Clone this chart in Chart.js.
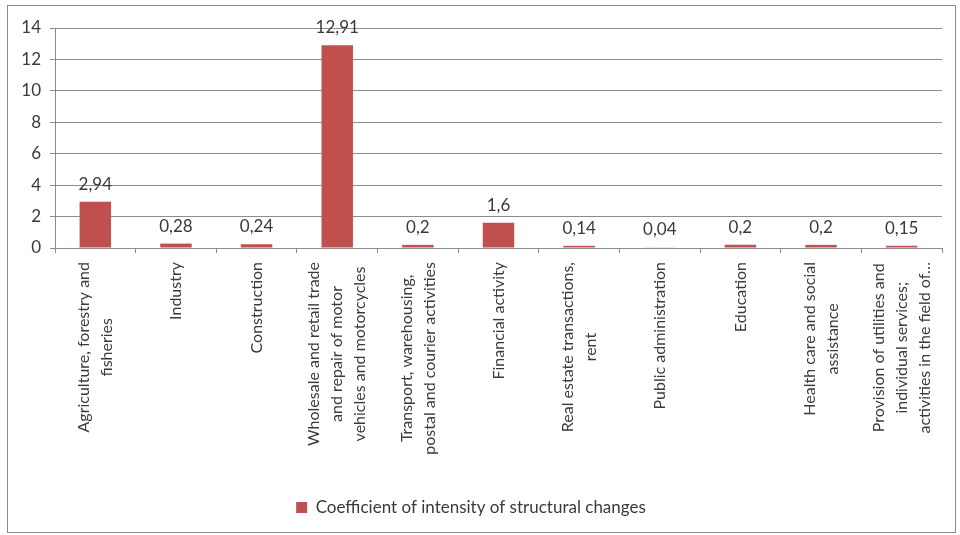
<!DOCTYPE html>
<html>
<head>
<meta charset="utf-8">
<script src="https://cdn.jsdelivr.net/npm/chart.js@4"></script>
<style>
  html, body { margin: 0; padding: 0; background: #fff; }
  #wrap { width: 960px; height: 535px; position: relative; }
</style>
</head>
<body>
<div id="wrap"><canvas id="intensity"></canvas></div>
<script>
const sectors = [
    ['Agriculture, forestry and', 'fisheries'],
    ['Industry'],
    ['Construction'],
    ['Wholesale and retail trade', 'and repair of motor', 'vehicles and motorcycles'],
    ['Transport, warehousing,', 'postal and courier activities'],
    ['Financial activity'],
    ['Real estate transactions,', 'rent'],
    ['Public administration'],
    ['Education'],
    ['Health care and social', 'assistance'],
    ['Provision of utilities and', 'individual services;', 'activities in the field of\u2026']
];
const coefficients = [2.94, 0.28, 0.24, 12.91, 0.2, 1.6, 0.14, 0.04, 0.2, 0.2, 0.15];
const yTicks = [0, 2, 4, 6, 8, 10, 12, 14];

const textColor = '#3a3a3a';
const gridColor = '#8c8c8c';

Chart.defaults.font.family = 'Lato';
Chart.defaults.font.size = 17;
Chart.defaults.color = textColor;

function commaNum(v) {
    return String(v).replace('.', ',');
}

// outer frame round the whole chart
const framePlugin = {
    id: 'frame',
    beforeDraw(chart) {
        const ctx = chart.ctx;
        ctx.save();
        ctx.strokeStyle = '#8a8a8a';
        ctx.lineWidth = 1;
        ctx.strokeRect(7.5, 5.5, 948, 527);
        ctx.restore();
    }
};

// value on top of each bar
const valueLabels = {
    id: 'valueLabels',
    afterDatasetsDraw(chart) {
        const ctx = chart.ctx;
        const meta = chart.getDatasetMeta(0);
        ctx.save();
        ctx.font = '17px Lato';
        ctx.fillStyle = textColor;
        ctx.textAlign = 'center';
        ctx.textBaseline = 'bottom';
        meta.data.forEach((bar, i) => {
            ctx.fillText(commaNum(coefficients[i]), bar.x, bar.y - 9);
        });
        ctx.restore();
    }
};

// vertical category names, lines centred on each other
const sectorLabels = {
    id: 'sectorLabels',
    afterDraw(chart) {
        const ctx = chart.ctx;
        const x = chart.scales.x;
        const top = x.top + 14;
        const lh = 23;
        ctx.save();
        ctx.font = '16px Lato';
        ctx.fillStyle = textColor;
        ctx.textAlign = 'center';
        ctx.textBaseline = 'middle';
        sectors.forEach((lines, i) => {
            const px = x.getPixelForValue(i);
            const w = Math.max(...lines.map(l => ctx.measureText(l).width));
            ctx.save();
            ctx.translate(px, top);
            ctx.rotate(-Math.PI / 2);
            lines.forEach((l, k) => {
                ctx.fillText(l, -w / 2, (k - (lines.length - 1) / 2) * lh);
            });
            ctx.restore();
        });
        ctx.restore();
    }
};

const config = {
    type: 'bar',
    data: {
        labels: sectors.map(s => s.join(' ')),
        datasets: [{
            label: 'Coefficient of intensity of structural changes',
            data: coefficients,
            backgroundColor: '#c0504d',
            borderWidth: 0,
            categoryPercentage: 1,
            barPercentage: 0.39
        }]
    },
    options: {
        responsive: true,
        maintainAspectRatio: false,
        animation: false,
        layout: { padding: { left: 0, right: 18, top: 28, bottom: 9 } },
        plugins: {
            legend: {
                position: 'bottom',
                labels: {
                    boxWidth: 11,
                    boxHeight: 11,
                    color: textColor,
                    font: { size: 17 }
                }
            },
            tooltip: { enabled: false }
        },
        scales: {
            x: {
                grid: {
                    drawOnChartArea: false,
                    color: gridColor,
                    tickLength: 5
                },
                border: { color: gridColor },
                ticks: { display: false },
                afterFit(scale) { scale.height = 241; }
            },
            y: {
                min: 0,
                max: 14,
                afterBuildTicks(scale) { scale.ticks = yTicks.map(v => ({ value: v })); },
                grid: { color: gridColor, tickLength: 5 },
                border: { color: gridColor },
                ticks: { padding: 9, color: textColor, font: { size: 17 } },
                afterFit(scale) { scale.width = 55; }
            }
        }
    },
    plugins: [framePlugin, valueLabels, sectorLabels]
};

const myChart = new Chart(document.getElementById('intensity'), config);
</script>
</body>
</html>
